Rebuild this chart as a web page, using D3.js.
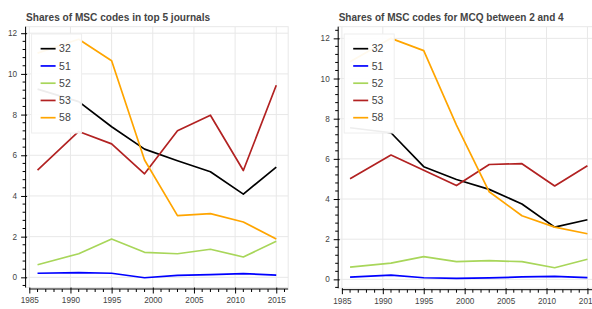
<!DOCTYPE html>
<html>
<head>
<meta charset="utf-8">
<script src="https://cdn.jsdelivr.net/npm/d3@7"></script>
<style>
  body { margin: 0; background: #fff; }
  svg { display: block; font-family: "Liberation Sans", Arial, sans-serif; }
</style>
</head>
<body>
<svg id="chart" width="592" height="309"></svg>
<script>
// years on the x axis
const years = [1986, 1991, 1995, 1999, 2003, 2007, 2011, 2015];
const codes = ["32", "51", "52", "53", "58"];

// shares (%) in top 5 journals
const top32 = [9.25, 8.64, 7.40, 6.30, 5.73, 5.19, 4.09, 5.42];
const top51 = [0.20, 0.23, 0.20, -0.02, 0.10, 0.13, 0.18, 0.11];
const top52 = [0.62, 1.16, 1.88, 1.23, 1.16, 1.38, 1.00, 1.77];
const top53 = [5.27, 7.17, 6.56, 5.09, 7.20, 7.97, 5.25, 9.44];
const top58 = [11.02, 11.70, 10.65, 5.77, 3.03, 3.13, 2.72, 1.88];

// shares (%) for MCQ between 2 and 4
const mcq32 = [7.55, 7.30, 5.61, 4.97, 4.48, 3.75, 2.60, 2.97];
const mcq51 = [0.11, 0.21, 0.08, 0.05, 0.07, 0.12, 0.15, 0.09];
const mcq52 = [0.61, 0.81, 1.13, 0.88, 0.93, 0.88, 0.58, 1.00];
const mcq53 = [5.01, 6.19, 5.43, 4.67, 5.72, 5.76, 4.65, 5.66];
const mcq58 = [10.84, 12.00, 11.39, 7.68, 4.36, 3.17, 2.60, 2.27];

const yTicks = [0, 2, 4, 6, 8, 10, 12];
const xTicks = [1985, 1990, 1995, 2000, 2005, 2010, 2015];

const colors = ["#000000", "#0000ff", "#a8d65a", "#b22222", "#ffa500"];

const svg = d3.select("#chart");

function drawPanel(cfg) {
  const { left, right, top, bottom, title, titleLen, series, xDomain, yDomain, id } = cfg;

  const x = d3.scaleLinear().domain(xDomain).range([left, right]);
  const y = d3.scaleLinear().domain(yDomain).range([bottom, top]);

  const g = svg.append("g");

  g.append("defs").append("clipPath").attr("id", id)
    .append("rect")
    .attr("x", left).attr("y", top)
    .attr("width", right - left).attr("height", bottom - top);

  // grid
  g.append("g").selectAll("line.gx")
    .data(xTicks)
    .enter().append("line")
    .attr("x1", d => x(d)).attr("x2", d => x(d))
    .attr("y1", top).attr("y2", bottom)
    .attr("stroke", "#e8e8e8").attr("stroke-width", 1);

  g.append("g").selectAll("line.gy")
    .data(yTicks)
    .enter().append("line")
    .attr("x1", left).attr("x2", right)
    .attr("y1", d => y(d)).attr("y2", d => y(d))
    .attr("stroke", "#e8e8e8").attr("stroke-width", 1);

  // frame outline
  g.append("rect")
    .attr("x", left).attr("y", top)
    .attr("width", right - left).attr("height", bottom - top)
    .attr("fill", "none").attr("stroke", "#e8e8e8");

  // lines
  const line = d3.line()
    .x((d, i) => x(years[i]))
    .y(d => y(d));

  g.append("g").attr("clip-path", `url(#${id})`)
    .selectAll("path")
    .data(series)
    .enter().append("path")
    .attr("d", d => line(d))
    .attr("fill", "none")
    .attr("stroke", (d, i) => colors[i])
    .attr("stroke-width", 1.7)
    .attr("stroke-linejoin", "round");

  // x axis
  const xAxis = d3.axisBottom(x).tickValues(xTicks).tickFormat(d3.format("d"))
    .tickSizeInner(4.5).tickSizeOuter(0).tickPadding(3.5);
  const gx = g.append("g")
    .attr("transform", `translate(0,${bottom + 1.5})`)
    .call(xAxis);
  gx.select(".domain").attr("d", `M${x(1985)},0H${right}`).attr("stroke", "#000");
  gx.selectAll(".tick line").attr("y1", -1.5).attr("stroke", "#000");
  gx.selectAll("text").attr("fill", "#444").attr("font-size", 8.2)
    .attr("font-family", "Liberation Sans, Arial, sans-serif");

  const xMinor = d3.range(1985, 2017).filter(v => v % 5 !== 0);
  gx.selectAll("line.minor")
    .data(xMinor)
    .enter().append("line")
    .attr("class", "minor")
    .attr("x1", d => x(d)).attr("x2", d => x(d))
    .attr("y1", 0).attr("y2", 3)
    .attr("stroke", "#000");

  // y axis
  const yAxis = d3.axisLeft(y).tickValues(yTicks)
    .tickSizeInner(4.5).tickSizeOuter(0).tickPadding(4);
  const gy = g.append("g")
    .attr("transform", `translate(${left},0)`)
    .call(yAxis);
  gy.select(".domain").attr("d", `M0,${top}V${bottom}`).attr("stroke", "#000");
  gy.selectAll(".tick line").attr("x2", 1.5).attr("x1", -4.5).attr("stroke", "#000");
  gy.selectAll("text").attr("fill", "#444").attr("font-size", 8.2)
    .attr("font-family", "Liberation Sans, Arial, sans-serif");

  const yMinor = d3.range(-0.4, 12.6, 0.4)
    .map(v => Math.round(v * 10) / 10)
    .filter(v => Math.abs(v % 2) > 0.01 && v >= yDomain[0] && v <= yDomain[1]);
  gy.selectAll("line.minor")
    .data(yMinor)
    .enter().append("line")
    .attr("class", "minor")
    .attr("x1", -3).attr("x2", 0)
    .attr("y1", d => y(d)).attr("y2", d => y(d))
    .attr("stroke", "#000");

  // title
  g.append("text")
    .attr("x", left + 0.5).attr("y", 20.5)
    .attr("font-size", 11).attr("font-weight", "bold")
    .attr("fill", "#444")
    .attr("textLength", titleLen).attr("lengthAdjust", "spacingAndGlyphs")
    .text(title);

  // legend
  const lx = left + 6, ly = 34, lw = 50, lh = 99;
  const lg = g.append("g");
  lg.append("rect")
    .attr("x", lx).attr("y", ly).attr("width", lw).attr("height", lh)
    .attr("fill", "#fff").attr("fill-opacity", 0.93)
    .attr("stroke", "#eeeeee");

  const items = lg.selectAll("g.item")
    .data(codes)
    .enter().append("g")
    .attr("transform", (d, i) => `translate(0,${48.7 + i * 17.25})`);
  items.append("line")
    .attr("x1", left + 15).attr("x2", left + 30)
    .attr("y1", 0).attr("y2", 0)
    .attr("stroke", (d, i) => colors[i]).attr("stroke-width", 1.7);
  items.append("text")
    .attr("x", left + 33.5).attr("y", 0).attr("dy", "0.36em")
    .attr("font-size", 10.5).attr("fill", "#444")
    .text(d => d);
}

drawPanel({
  id: "clipA",
  left: 25.6, right: 288.2, top: 26.7, bottom: 287.5,
  xDomain: [1984.55, 2016.45], yDomain: [-0.5, 12.32],
  title: "Shares of MSC codes in top 5 journals", titleLen: 184,
  series: [top32, top51, top52, top53, top58]
});

drawPanel({
  id: "clipB",
  left: 338.2, right: 599.3, top: 26.7, bottom: 288.2,
  xDomain: [1984.55, 2016.45], yDomain: [-0.44, 12.58],
  title: "Shares of MSC codes for MCQ between 2 and 4", titleLen: 225,
  series: [mcq32, mcq51, mcq52, mcq53, mcq58]
});
</script>
</body>
</html>
